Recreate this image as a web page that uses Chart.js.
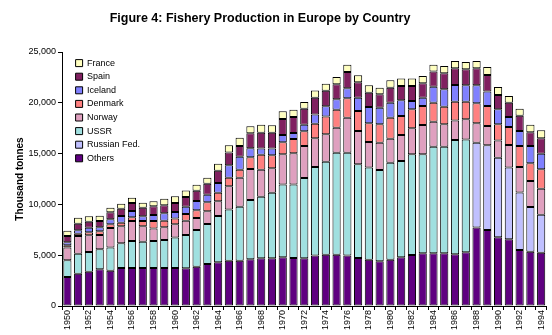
<!DOCTYPE html>
<html>
<head>
<meta charset="utf-8">
<script src="https://cdn.jsdelivr.net/npm/chart.js@4/dist/chart.umd.min.js"></script>
<style>
  html, body { margin: 0; padding: 0; background: #fff; }
  #wrap { width: 552px; height: 335px; position: relative; }
</style>
</head>
<body>
<div id="wrap"><canvas id="chart"></canvas></div>
<script>
/** Data (thousand tonnes) */
const years = [];
for (let y = 1950; y <= 1994; y++) years.push(String(y));

const others = [2850, 3180, 3380, 3610, 3480, 3740, 3740, 3740, 3740, 3740,
  3740, 3710, 3870, 4130, 4300, 4460, 4460, 4590, 4690, 4690,
  4790, 4720, 4690, 4960, 5050, 5050, 4960, 4720, 4560, 4400,
  4560, 4790, 5020, 5190, 5190, 5190, 5090, 5280, 7720, 7480,
  6760, 6560, 5510, 5350, 5250];
const russianFed = [null, null, null, null, null, null, null, null, null, null,
  null, null, null, null, null, null, null, null, null, null,
  null, null, null, null, null, null, null, null, null, null,
  null, null, null, null, null, null, null, null, 8360, 8330,
  7840, 7060, 5650, 4390, 3740];
const ussr = [1650, 1970, 1930, 1970, 2290, 2430, 2660, 2590, 2660, 2760,
  2990, 3280, 3610, 3940, 4560, 5050, 5320, 5840, 6070, 6460,
  7180, 7250, 7910, 8720, 9160, 10040, 10130, 9220, 9060, 8990,
  9550, 9480, 9910, 9740, 10490, 10490, 11250, 11120, null, null,
  null, null, null, null, null];
const norway = [1250, 1740, 1650, 1410, 1910, 1670, 1970, 1510, 1240, 1240,
  1310, 1410, 1180, 1250, 1440, 2270, 2850, 3050, 2660, 2400,
  2960, 3060, 3150, 2820, 2690, 2460, 3450, 3280, 2520, 2690,
  2360, 2560, 2560, 2890, 2460, 2200, 1930, 1970, 1900, 1910,
  1700, 2230, 2520, 2560, 2550];
const denmark = [220, 230, 290, 360, 360, 360, 360, 530, 730, 660,
  560, 660, 760, 880, 850, 850, 790, 1150, 1470, 1280,
  1180, 1410, 1440, 1450, 1740, 1770, 1900, 1970, 1840, 1800,
  2070, 1870, 1870, 1870, 1870, 1740, 1840, 1740, 1970, 1970,
  1580, 1770, 2070, 1740, 1910];
const iceland = [300, 330, 460, 390, 490, 660, 620, 460, 590, 720,
  650, 720, 920, 760, 950, 1220, 1280, 890, 600, 660,
  720, 590, 660, 910, 1010, 1020, 980, 1310, 1610, 1640,
  1470, 1540, 820, 810, 1580, 1710, 1640, 1610, 1770, 1410,
  1480, 980, 1470, 1710, 1540];
const spain = [620, 650, 590, 630, 690, 720, 790, 850, 850, 790,
  890, 950, 1010, 1080, 1220, 1250, 1050, 1480, 1570, 1570,
  1580, 1570, 1570, 1640, 1540, 1480, 1610, 1520, 1410, 1310,
  1480, 1410, 1470, 1420, 1480, 1570, 1640, 1570, 1670, 1640,
  1410, 1410, 1510, 1340, 1510];
const france = [520, 590, 530, 520, 460, 490, 520, 490, 490, 650,
  650, 650, 590, 590, 690, 710, 820, 690, 790, 720,
  750, 720, 660, 720, 690, 720, 720, 690, 720, 660,
  720, 730, 730, 720, 680, 720, 720, 730, 720, 780,
  790, 660, 690, 760, 790];

const TITLE = 'Figure 4: Fishery Production in Europe by Country';
const FONT = 'Arial, "Liberation Sans", sans-serif';

Chart.defaults.font.family = FONT;
Chart.defaults.color = '#000';

const series = (label, data, color) => ({
  label: label,
  data: data,
  backgroundColor: color,
  borderColor: '#000',
  borderWidth: 1,
  borderSkipped: false,
  barPercentage: 0.76,
  categoryPercentage: 1
});

/** Title drawn left of centre like the original, legend put inside the plot */
const figTitle = {
  id: 'figTitle',
  afterLayout(chart) {
    chart.legend.left = chart.chartArea.left + 9;
    chart.legend.top = chart.chartArea.top + 2;
  },
  afterDraw(chart) {
    const ctx = chart.ctx;
    ctx.save();
    ctx.font = 'bold 12.5px ' + FONT;
    ctx.fillStyle = '#000';
    ctx.textAlign = 'center';
    ctx.textBaseline = 'middle';
    ctx.fillText(TITLE, 260, 19);
    ctx.restore();
  }
};

new Chart(document.getElementById('chart'), {
  type: 'bar',
  data: {
    labels: years,
    datasets: [
      series('Others', others, '#5f0080'),
      series('Russian Fed.', russianFed, '#c0c0ff'),
      series('USSR', ussr, '#a0e0e0'),
      series('Norway', norway, '#dfa0bf'),
      series('Denmark', denmark, '#ff8080'),
      series('Iceland', iceland, '#8080ff'),
      series('Spain', spain, '#802060'),
      series('France', france, '#ffffc0')
    ]
  },
  options: {
    responsive: true,
    maintainAspectRatio: false,
    animation: false,
    layout: {
      padding: { top: 52, right: 4, left: 0, bottom: 0 }
    },
    plugins: {
      title: { display: false },
      tooltip: { enabled: false },
      legend: {
        position: 'chartArea',
        align: 'start',
        reverse: true,
        labels: {
          boxWidth: 7,
          boxHeight: 7,
          padding: 4.6,
          font: { size: 9 },
          color: '#000'
        }
      }
    },
    scales: {
      x: {
        stacked: true,
        afterFit: s => { s.height = 29; },
        grid: {
          offset: true,
          drawOnChartArea: false,
          color: '#000',
          tickLength: 4
        },
        border: { color: '#000', width: 1 },
        ticks: {
          autoSkip: false,
          maxRotation: 90,
          minRotation: 90,
          padding: 0,
          font: { size: 9 },
          callback: function (value, index) {
            return index % 2 === 0 ? this.getLabelForValue(value) : '';
          }
        }
      },
      y: {
        stacked: true,
        min: 0,
        max: 25000,
        afterFit: s => { s.width = 62; },
        grid: {
          drawOnChartArea: false,
          color: '#000',
          tickLength: 4
        },
        border: { color: '#000', width: 1 },
        ticks: {
          stepSize: 5000,
          padding: 2,
          font: { size: 9 },
          callback: v => v.toLocaleString('en-US')
        },
        title: {
          display: true,
          text: 'Thousand tonnes',
          font: { size: 10, weight: 'bold' },
          padding: { top: 14, bottom: 0 }
        }
      }
    }
  },
  plugins: [figTitle]
});
</script>
</body>
</html>
